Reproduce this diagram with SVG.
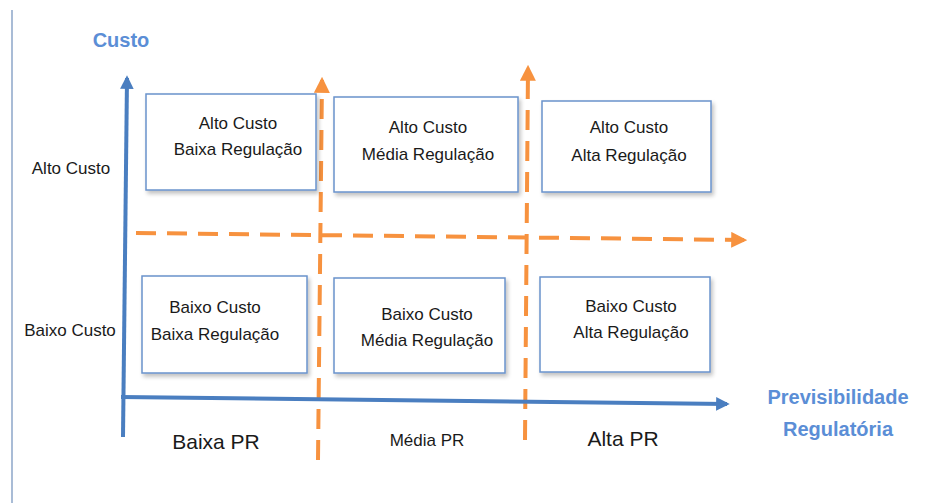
<svg xmlns="http://www.w3.org/2000/svg" width="936" height="503" viewBox="0 0 936 503">
<defs>
<marker id="blueArrow" viewBox="0 0 10 10" refX="8" refY="5" markerWidth="3.4" markerHeight="3.4" orient="auto" markerUnits="strokeWidth">
<path d="M0,0 L10,5 L0,10 z" fill="#4A7EC0"/>
</marker>
<marker id="orangeArrow" viewBox="0 0 10 10" refX="8" refY="5" markerWidth="4" markerHeight="4" orient="auto" markerUnits="strokeWidth">
<path d="M0,0 L10,5 L0,10 z" fill="#F7923F"/>
</marker>
<filter id="sh" x="-10%" y="-10%" width="130%" height="130%">
<feGaussianBlur in="SourceAlpha" stdDeviation="2"/>
<feOffset dx="2" dy="3" result="b"/>
<feComponentTransfer><feFuncA type="linear" slope="0.25"/></feComponentTransfer>
<feMerge><feMergeNode/><feMergeNode in="SourceGraphic"/></feMerge>
</filter>
</defs>
<style>
.box{fill:#fff;stroke:#6A93CC;stroke-width:1.5}
.t{font-family:"Liberation Sans",Arial,sans-serif;font-size:17px;fill:#1a1a1a;text-anchor:middle}
.lbl{font-family:"Liberation Sans",Arial,sans-serif;font-size:17px;fill:#1a1a1a;text-anchor:middle}
.big{font-family:"Liberation Sans",Arial,sans-serif;font-size:21px;fill:#1a1a1a;text-anchor:middle}
.ax{font-family:"Liberation Sans",Arial,sans-serif;font-size:20px;font-weight:bold;fill:#5B8ED6;text-anchor:middle}
.axis{stroke:#4A7EC0;stroke-width:4;fill:none}
.od{stroke:#F7923F;stroke-width:4;fill:none;stroke-dasharray:20 11}
</style>
<line x1="12" y1="10" x2="12" y2="503" stroke="#A9BCD6" stroke-width="2"/>
<g id="connectors">
<line class="od" x1="318" y1="460" x2="322" y2="80" marker-end="url(#orangeArrow)"/>
<line class="od" x1="525" y1="440" x2="528" y2="68" marker-end="url(#orangeArrow)"/>
<line class="od" x1="136" y1="233" x2="744" y2="240" marker-end="url(#orangeArrow)"/>
<line class="axis" x1="123" y1="437" x2="127" y2="78" marker-end="url(#blueArrow)"/>
<line class="axis" x1="121" y1="397" x2="727" y2="404" marker-end="url(#blueArrow)"/>
</g>
<g id="axis-y-title"><text class="ax" x="121" y="47">Custo</text></g>
<g id="axis-x-title"><text class="ax" x="838" y="404">Previsibilidade</text><text class="ax" x="838" y="436">Regulatória</text></g>
<g id="label-alto"><text class="t" x="71" y="174">Alto Custo</text></g>
<g id="label-baixo"><text class="t" x="70" y="336">Baixo Custo</text></g>
<g id="n1"><rect class="box" x="146" y="94" width="170" height="96" filter="url(#sh)"/><text class="t" x="238" y="129">Alto Custo</text><text class="t" x="238" y="155">Baixa Regulação</text></g>
<g id="n2"><rect class="box" x="334" y="97" width="184" height="95" filter="url(#sh)"/><text class="t" x="428" y="133">Alto Custo</text><text class="t" x="428" y="160">Média Regulação</text></g>
<g id="n3"><rect class="box" x="542" y="101" width="169" height="91" filter="url(#sh)"/><text class="t" x="629" y="133">Alto Custo</text><text class="t" x="629" y="161">Alta Regulação</text></g>
<g id="n4"><rect class="box" x="142" y="276" width="165" height="97" filter="url(#sh)"/><text class="t" x="215" y="313">Baixo Custo</text><text class="t" x="215" y="340">Baixa Regulação</text></g>
<g id="n5"><rect class="box" x="334" y="278" width="171" height="95" filter="url(#sh)"/><text class="t" x="427" y="320">Baixo Custo</text><text class="t" x="427" y="346">Média Regulação</text></g>
<g id="n6"><rect class="box" x="540" y="277" width="170" height="95" filter="url(#sh)"/><text class="t" x="631" y="312">Baixo Custo</text><text class="t" x="631" y="338">Alta Regulação</text></g>
<g id="pr-baixa"><text class="big" x="216" y="449">Baixa PR</text></g>
<g id="pr-media"><text class="lbl" x="427" y="446">Média PR</text></g>
<g id="pr-alta"><text class="big" x="623" y="446">Alta PR</text></g>
</svg>
